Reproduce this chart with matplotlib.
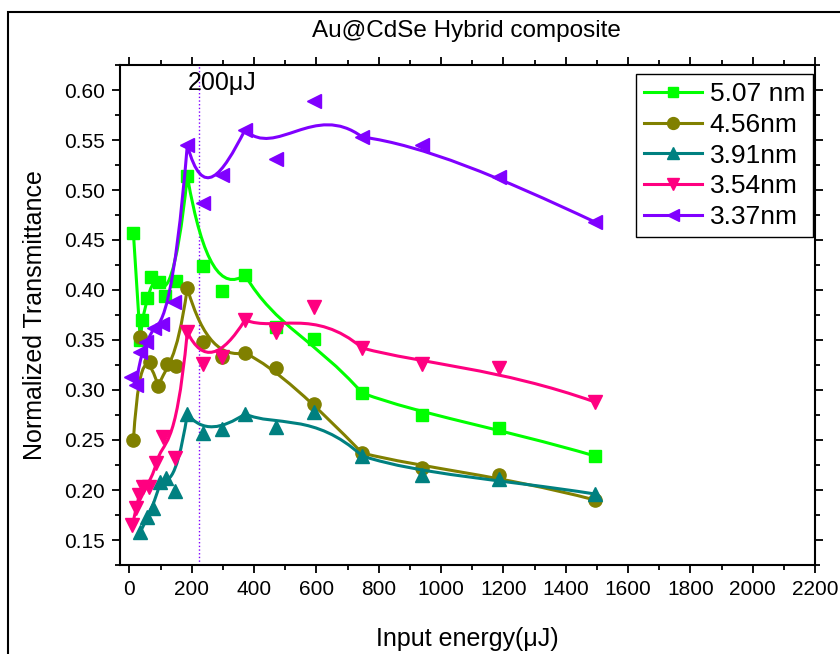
import numpy as np
import matplotlib
matplotlib.use("Agg")
import matplotlib.pyplot as plt
from matplotlib.path import Path
from matplotlib.patches import PathPatch, Rectangle
from matplotlib.lines import Line2D
from matplotlib.ticker import MultipleLocator

plt.rcParams['font.family'] = ['Liberation Sans', 'DejaVu Sans']

# data (input energy in uJ, normalized transmittance)
x_507 = [13, 35, 42, 58, 71, 96, 115, 151, 186, 236, 297, 371, 470, 593, 747, 940, 1186, 1494]
y_507 = [0.457, 0.350, 0.370, 0.392, 0.413, 0.408, 0.394, 0.409, 0.514, 0.424, 0.399, 0.415,
         0.363, 0.351, 0.297, 0.275, 0.262, 0.234]

x_456 = [13, 35, 67, 93, 120, 150, 186, 236, 297, 371, 470, 593, 747, 940, 1186, 1494]
y_456 = [0.250, 0.353, 0.328, 0.304, 0.326, 0.324, 0.402, 0.348, 0.333, 0.337, 0.322, 0.286,
         0.237, 0.222, 0.215, 0.190]

x_391 = [35, 58, 77, 99, 119, 147, 186, 236, 297, 371, 470, 593, 747, 940, 1186, 1494]
y_391 = [0.158, 0.173, 0.182, 0.208, 0.212, 0.199, 0.276, 0.257, 0.261, 0.276, 0.263, 0.278,
         0.234, 0.215, 0.211, 0.196]

x_354 = [10, 22, 32, 45, 64, 87, 109, 147, 186, 236, 297, 371, 470, 593, 747, 940, 1186, 1494]
y_354 = [0.165, 0.182, 0.195, 0.203, 0.203, 0.227, 0.253, 0.232, 0.358, 0.326, 0.333, 0.370,
         0.358, 0.383, 0.342, 0.326, 0.322, 0.288]

x_337 = [6, 22, 35, 54, 80, 106, 144, 186, 236, 297, 371, 470, 593, 747, 940, 1186, 1494]
y_337 = [0.313, 0.305, 0.338, 0.348, 0.362, 0.366, 0.388, 0.545, 0.487, 0.515, 0.560, 0.531,
         0.589, 0.553, 0.545, 0.513, 0.468]

labels = ['5.07 nm', '4.56nm', '3.91nm', '3.54nm', '3.37nm']
colors = ['#00ff00', '#808000', '#008080', '#ff0080', '#8000ff']
markers = ['s', 'o', '^', 'v', '<']
msizes = [8, 9.5, 10, 10, 10]
threshold = 225


def bezier_path(xs, ys):
    # Origin style bezier connection: every 3rd point sits on the curve
    verts = list(zip(xs, ys))
    n = len(verts)
    lead = (n - 1) % 3
    codes = [Path.MOVETO] + [Path.LINETO] * lead + [Path.CURVE4] * (n - 1 - lead)
    return Path(verts, codes)


fig = plt.figure(figsize=(8.4, 6.54), dpi=100)
ax = fig.add_axes([120 / 840, 1 - 565 / 654, 695 / 840, 500 / 654])

series = [(x_507, y_507), (x_456, y_456), (x_391, y_391), (x_354, y_354), (x_337, y_337)]
handles = []
for i, (xs, ys) in enumerate(series):
    patch = PathPatch(bezier_path(xs, ys), facecolor='none', edgecolor=colors[i],
                      lw=2.2, zorder=2 + i, capstyle='round', joinstyle='round')
    ax.add_patch(patch)
    ax.plot(xs, ys, ls='none', marker=markers[i], ms=msizes[i], color=colors[i],
            mec=colors[i], zorder=2.5 + i)
    handles.append(Line2D([], [], color=colors[i], lw=2.2, marker=markers[i],
                          ms=msizes[i] * 0.9, label=labels[i]))

ax.axvline(threshold, color='#8000ff', ls=':', lw=1, zorder=1)
ax.text(186, 0.607, '200\u03bcJ', fontsize=18, va='center', ha='left')

ax.set_xlim(-30, 2200)
ax.set_ylim(0.125, 0.625)
ax.xaxis.set_major_locator(MultipleLocator(200))
ax.xaxis.set_minor_locator(MultipleLocator(100))
ax.yaxis.set_major_locator(MultipleLocator(0.05))
ax.yaxis.set_minor_locator(MultipleLocator(0.025))
ax.yaxis.set_major_formatter(matplotlib.ticker.FormatStrFormatter('%.2f'))
ax.tick_params(which='both', direction='out', top=True, right=True, width=1.3,
               labelsize=15)
ax.tick_params(which='major', length=6, pad=5)
ax.tick_params(which='minor', length=3.5)
for sp in ax.spines.values():
    sp.set_linewidth(1.5)

ax.set_xlabel('Input energy(\u03bcJ)', fontsize=18, labelpad=20)
ax.set_ylabel('Normalized Transmittance', fontsize=18, labelpad=12)

leg = ax.legend(handles=handles, loc='upper right', bbox_to_anchor=(0.997, 0.982),
                fontsize=19, frameon=True, fancybox=False, edgecolor='black',
                framealpha=1, handlelength=2.2, handletextpad=0.3, labelspacing=0.26,
                borderpad=0.3, borderaxespad=0)
leg.get_frame().set_linewidth(1)

fig.text(466 / 840, 1 - 31 / 654, 'Au@CdSe Hybrid composite', fontsize=17.5,
         ha='center', va='center')
fig.add_artist(Rectangle((8 / 840, -0.1), 2, 1 - 12 / 654 + 0.1, transform=fig.transFigure,
                         fill=False, lw=1.5, edgecolor='black'))

fig.savefig('out.png', dpi=100)
